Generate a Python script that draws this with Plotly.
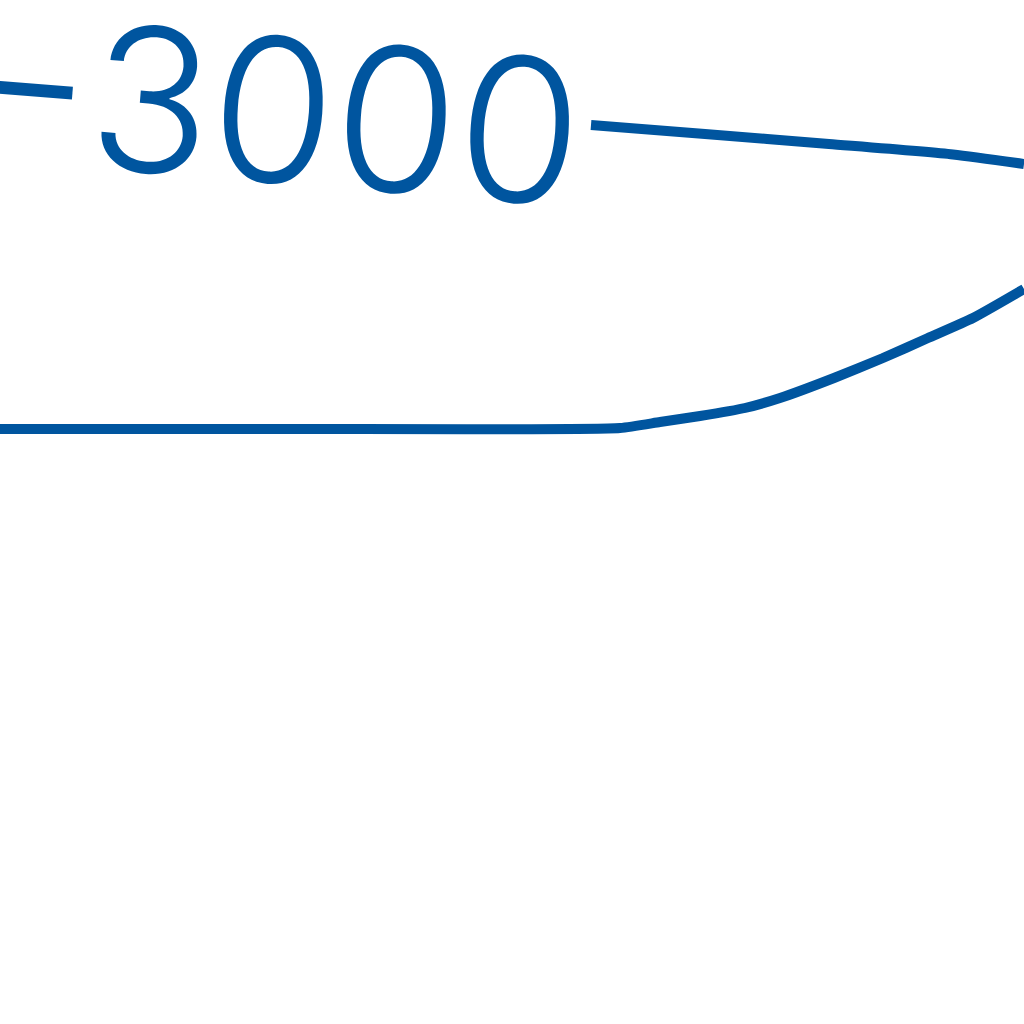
import plotly.graph_objects as go

# Contour line values (in plot units 0..1024, y downwards)
upper_x = [591, 705, 829, 953, 1024]
upper_y = [125, 134, 144, 154.5, 164]

lower_x = [0, 300, 620, 660, 700, 745, 780, 834, 883, 928, 973, 1024]
lower_y = [429, 429, 428, 422, 416, 408, 398, 378, 358, 338, 318, 289]

label_text = "−3000"
label_x = 272
label_y = 109
label_angle = 4.6

color = "#00559F"

fig = go.Figure()
fig.add_trace(go.Scatter(x=upper_x, y=upper_y, mode="lines",
                         line=dict(color=color, width=10, shape="spline", smoothing=0.6),
                         hoverinfo="skip"))
fig.add_trace(go.Scatter(x=lower_x, y=lower_y, mode="lines",
                         line=dict(color=color, width=10, shape="spline", smoothing=0.5),
                         hoverinfo="skip"))
fig.add_annotation(x=label_x, y=label_y, xref="x", yref="y", text=label_text,
                   showarrow=False, textangle=label_angle,
                   font=dict(family="Inter, Roboto", size=200,
                             color=color, weight=300),
                   xanchor="center", yanchor="middle")

fig.update_layout(width=1024, height=1024, margin=dict(l=0, r=0, t=0, b=0),
                  paper_bgcolor="white", plot_bgcolor="white", showlegend=False,
                  hovermode=False)
fig.update_xaxes(range=[0, 1024], visible=False)
fig.update_yaxes(range=[1024, 0], visible=False)
fig.write_html("out.html", config={"displayModeBar": False},
               post_script="document.body.style.margin='0';")
